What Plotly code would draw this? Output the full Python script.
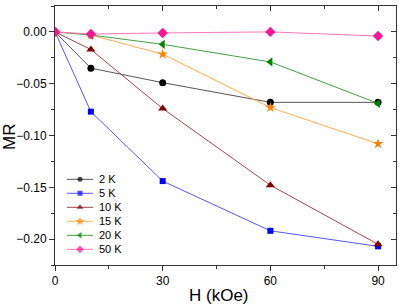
import plotly.graph_objects as go

H = [0, 10, 30, 60, 90]
labels = ["2 K", "5 K", "10 K", "15 K", "20 K", "50 K"]
mr_2K = [0, -0.035, -0.049, -0.068, -0.068]
mr_5K = [0, -0.077, -0.144, -0.192, -0.207]
mr_10K = [0, -0.017, -0.074, -0.148, -0.205]
mr_15K = [0, -0.003, -0.0215, -0.073, -0.108]
mr_20K = [0, -0.003, -0.012, -0.029, -0.069]
mr_50K = [0, -0.002, -0.001, 0.0, -0.004]
series = [mr_2K, mr_5K, mr_10K, mr_15K, mr_20K, mr_50K]
x_ticks = [0, 30, 60, 90]
y_ticks = [0, -0.05, -0.10, -0.15, -0.20]

marker_colors = ["#000000", "#0000ff", "#800000", "#ff8000", "#008000", "#ff1493"]
line_colors = ["#555555", "#5555ff", "#a04848", "#ffaa55", "#44a044", "#ff77bb"]
symbols = ["circle", "square", "triangle-up", "star", "triangle-left", "diamond"]
sizes = [7, 6, 8, 8, 8, 8]
leg_sizes = [5, 5, 6, 7, 6, 6]

L, R, T, B = 55, 3, 6, 41
W, Hh = 399, 306
pw, ph = W - L - R, Hh - T - B

fig = go.Figure()
for lab, ys, mc, lc, sym, sz in zip(labels, series, marker_colors, line_colors, symbols, sizes):
    fig.add_trace(go.Scatter(
        x=H, y=ys, name=lab, mode="lines+markers", showlegend=False,
        line=dict(color=lc, width=1),
        marker=dict(color=mc, symbol=sym, size=sz, line=dict(width=0)),
    ))

# custom legend drawn in pixel coordinates of the plot area (axis x3/y3)
leg_y0, leg_dy = 179.3, 14.0
for i, (lab, mc, lc, sym, sz) in enumerate(zip(labels, marker_colors, line_colors, symbols, leg_sizes)):
    yy = leg_y0 + i * leg_dy - T
    fig.add_trace(go.Scatter(
        x=[67 - L, 80 - L, 93 - L], y=[yy, yy, yy], mode="lines+markers",
        xaxis="x3", yaxis="y3", showlegend=False, hoverinfo="skip",
        line=dict(color=lc, width=1),
        marker=dict(color=mc, symbol=sym, size=[0, sz, 0], line=dict(width=0)),
    ))
    fig.add_annotation(x=97 - L, y=yy, xref="x3", yref="y3", text=lab, showarrow=False,
                       xanchor="left", yanchor="middle", font=dict(size=11, color="black"))

xr = [0, 95]
yr = [-0.225, 0.025]
axcol = "#333333"
fig.update_layout(
    width=W, height=Hh,
    margin=dict(l=L, r=R, t=T, b=B),
    paper_bgcolor="white", plot_bgcolor="white",
    font=dict(family="Liberation Sans, Arial", size=12, color="black"),
    showlegend=False,
    xaxis=dict(range=xr, showgrid=False, zeroline=False, showline=True, automargin=False,
               linecolor=axcol, linewidth=1, ticks="outside", ticklen=5,
               tickcolor=axcol, tickvals=x_ticks,
               minor=dict(tickvals=[15, 45, 75], ticklen=3, ticks="outside", tickcolor=axcol),
               tickfont=dict(size=12)),
    yaxis=dict(range=yr, showgrid=False, zeroline=False, showline=True, automargin=False,
               linecolor=axcol, linewidth=1, ticks="outside", ticklen=5,
               tickcolor=axcol, tickvals=y_ticks, tickformat=".2f",
               minor=dict(tickvals=[0.025, -0.025, -0.075, -0.125, -0.175, -0.225], ticklen=3,
                          ticks="outside", tickcolor=axcol),
               tickfont=dict(size=12)),
    xaxis2=dict(range=xr, overlaying="x", side="top", showgrid=False, zeroline=False, automargin=False,
                showline=True, linecolor=axcol, ticks="inside", ticklen=5, tickcolor=axcol,
                tickvals=x_ticks, showticklabels=False,
                minor=dict(tickvals=[15, 45, 75], ticklen=3, ticks="inside", tickcolor=axcol)),
    yaxis2=dict(range=yr, overlaying="y", side="right", showgrid=False, zeroline=False, automargin=False,
                showline=True, linecolor=axcol, ticks="inside", ticklen=5, tickcolor=axcol,
                tickvals=y_ticks, showticklabels=False,
                minor=dict(tickvals=[-0.025, -0.075, -0.125, -0.175], ticklen=3,
                           ticks="inside", tickcolor=axcol)),
    xaxis3=dict(range=[0, pw], overlaying="x", visible=False, automargin=False, fixedrange=True),
    yaxis3=dict(range=[ph, 0], overlaying="y", visible=False, automargin=False, fixedrange=True),
)
fig.add_trace(go.Scatter(x=[None], y=[None], xaxis="x2", yaxis="y2", showlegend=False, hoverinfo="skip"))
# axis titles
fig.add_annotation(x=(219 - L) / pw, y=-(295 - T - ph) / ph, xref="paper", yref="paper",
                   text="H (kOe)", showarrow=False, xanchor="center", yanchor="middle",
                   font=dict(size=17, color="black"))
fig.add_annotation(x=-(L - 9) / pw, y=1 - (137 - T) / ph, xref="paper", yref="paper",
                   text="MR", showarrow=False, xanchor="center", yanchor="middle", textangle=-90,
                   font=dict(size=17, color="black"))
fig.write_html("out.html", config={"displayModeBar": False},
               post_script="document.body.style.margin='0';document.body.style.overflow='hidden';")
